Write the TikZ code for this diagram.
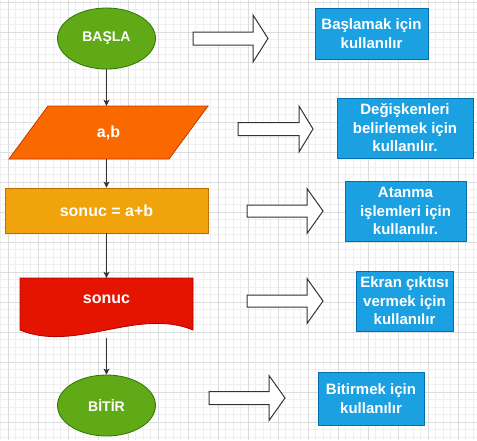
\documentclass[tikz,border=0pt]{standalone}
\usepackage{fontspec}
\setmainfont{Liberation Sans}
\usetikzlibrary{shapes.geometric,arrows.meta}
\definecolor{gminor}{HTML}{F0F0F0}
\definecolor{gmajor}{HTML}{DCDCDC}
\definecolor{grfill}{HTML}{60A917}
\definecolor{grline}{HTML}{2D7600}
\definecolor{orfill}{HTML}{FA6800}
\definecolor{orline}{HTML}{C73500}
\definecolor{yefill}{HTML}{F0A30A}
\definecolor{yeline}{HTML}{BD7000}
\definecolor{refill}{HTML}{E51400}
\definecolor{reline}{HTML}{B20000}
\definecolor{blfill}{HTML}{1BA1E2}
\definecolor{blline}{HTML}{006EAF}
\definecolor{dk}{HTML}{333333}
\newcommand\bigarrowshape[6]{% left, headbase, tip, yc, bodyhalf, headhalf
  \draw[blockarrow] (#1,#4-#5) -- (#2,#4-#5) -- (#2,#4-#6) -- (#3,#4) -- (#2,#4+#6) -- (#2,#4+#5) -- (#1,#4+#5) -- cycle;}
\begin{document}
\begin{tikzpicture}[x=1pt,y=-1pt,
  shapetext/.style={text=white,font=\bfseries\fontsize{16}{19}\selectfont},
  endtext/.style={text=white,font=\bfseries\fontsize{14}{17}\selectfont},
  endell/.style={ellipse,draw=grline,fill=grfill,line width=0.8pt,minimum width=98pt,minimum height=61pt,inner sep=0pt,endtext},
  infobox/.style={rectangle,draw=blline,fill=blfill,line width=0.8pt,inner sep=0pt,align=center,text=white,font=\bfseries\fontsize{15}{18.5}\selectfont},
  flowarrow/.style={draw=dk,line width=0.8pt,-{Stealth[length=6pt,width=6pt,inset=1.5pt]}},
  blockarrow/.style={draw=dk,fill=white,line width=1pt,line join=miter}]
\useasboundingbox (0,0) rectangle (477,440);
\fill[white] (0,0) rectangle (477,440);
% grid
\foreach \i in {0,...,64} {\draw[gminor,line width=0.5pt] (0.5+7.5*\i,0) -- (0.5+7.5*\i,440);}
\foreach \i in {0,...,59} {\draw[gminor,line width=0.5pt] (0,2+7.5*\i) -- (477,2+7.5*\i);}
\foreach \i in {0,...,15} {\draw[gmajor,line width=0.6pt] (8+30*\i,0) -- (8+30*\i,440);}
\foreach \i in {0,...,14} {\draw[gmajor,line width=0.6pt] (0,2+30*\i) -- (477,2+30*\i);}
% start / end
\node[endell] (basla) at (106.5,38.5) {BAŞLA};
\node[endell] (bitir) at (106.5,405.5) {BİTİR};
% parallelogram
\fill[orfill,draw=orline,line width=0.8pt] (48,106) -- (208,106) -- (169,159) -- (9,159) -- cycle;
\node[minimum width=160pt,minimum height=53pt,inner sep=0pt,shapetext] (ab) at (108.5,132.5) {a,b};
% process
\node[rectangle,draw=yeline,fill=yefill,line width=0.8pt,minimum width=203pt,minimum height=45pt,inner sep=0pt,shapetext] (sum) at (106.5,210.5) {sonuc = a+b};
% document
\fill[refill,draw=reline,line width=0.8pt] (20,278) -- (193,278) -- (193,330) .. controls (138,307) and (75,353) .. (20,330) -- cycle;
\node[minimum width=173pt,minimum height=60pt,inner sep=0pt] (doc) at (106.5,308) {};
\node[shapetext] (doctext) at (106.5,299) {sonuc};
% connectors
\draw[flowarrow] (basla.south) -- (basla.south |- ab.north);
\draw[flowarrow] (basla.south |- ab.south) -- (basla.south |- sum.north);
\draw[flowarrow] (basla.south |- sum.south) -- (basla.south |- doc.north);
\draw[flowarrow] (basla.south |- doc.south) -- (bitir.north);
% block arrows
\bigarrowshape{193}{253}{268}{38.5}{6.5}{23.5}
\bigarrowshape{238}{299}{313}{129}{6.5}{23}
\bigarrowshape{247}{307}{323}{211}{6}{22.5}
\bigarrowshape{247}{307}{323}{301}{6}{22.5}
\bigarrowshape{209}{269}{285}{398}{6.5}{22.5}
% info boxes
\node[infobox,minimum width=113pt,minimum height=51pt] (i1) at (371.5,33.5) {Başlamak için\\kullanılır};
\node[infobox,minimum width=136pt,minimum height=60pt] (i2) at (405,128) {Değişkenleri\\belirlemek için\\kullanılır.};
\node[infobox,minimum width=121pt,minimum height=60pt] (i3) at (405.5,211) {Atanma\\işlemleri için\\kullanılır.};
\node[infobox,minimum width=97pt,minimum height=60pt] (i4) at (404.5,301) {Ekran çıktısı\\vermek için\\kullanılır};
\node[infobox,minimum width=106pt,minimum height=53pt] (i5) at (371,398.5) {Bitirmek için\\kullanılır};
\end{tikzpicture}
\end{document}
